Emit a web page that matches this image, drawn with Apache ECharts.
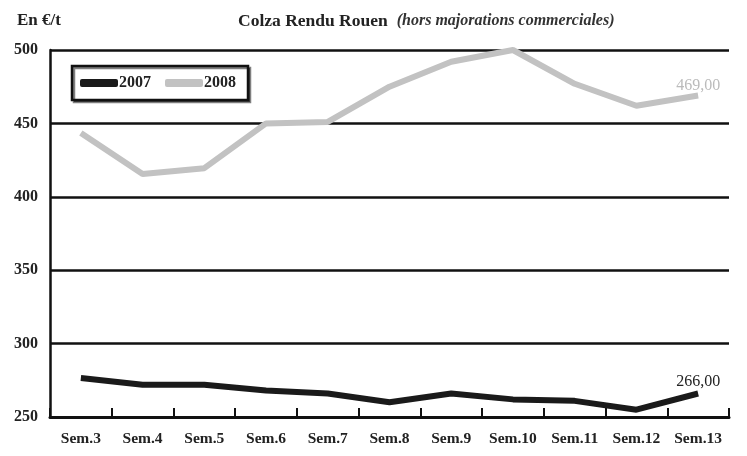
<!DOCTYPE html>
<html><head><meta charset="utf-8">
<script src="https://cdn.jsdelivr.net/npm/echarts@6/dist/echarts.min.js"></script>
<style>html,body{margin:0;padding:0;background:#fff}#c{width:747px;height:456px}</style>
</head><body><div id="c"></div>
<script>
const categories = ['Sem.3','Sem.4','Sem.5','Sem.6','Sem.7','Sem.8','Sem.9','Sem.10','Sem.11','Sem.12','Sem.13'];
const series2007 = [276.5, 272, 272, 268, 266, 260, 266, 262, 261, 255, 266];
const series2008 = [443.5, 415.5, 419.5, 450, 451, 475, 492, 500, 477, 462, 469];
const yTicks = [250, 300, 350, 400, 450, 500];

const font = '"Liberation Serif", "DejaVu Serif", serif';
const chart = echarts.init(document.getElementById('c'));
const last = categories.length - 1;
chart.setOption({
  animation: false,
  textStyle: { fontFamily: font },
  title: [
    { text: 'En €/t', left: 12, top: 7, textStyle: { fontFamily: font, fontWeight: 'bold', fontSize: 17, color: '#222' } },
    { text: '{b|Colza Rendu Rouen}  {i|(hors majorations commerciales)}', left: 233, top: 7,
      textStyle: { rich: {
        b: { fontFamily: font, fontWeight: 'bold', fontSize: 17.5, color: '#222' },
        i: { fontFamily: font, fontStyle: 'italic', fontSize: 16, color: '#333' } } } }
  ],
  legend: {
    left: 72, top: 66, itemWidth: 38, itemHeight: 8, itemGap: 14,
    padding: [9, 12, 9, 8],
    borderColor: '#111', borderWidth: 2.5,
    shadowColor: 'rgba(0,0,0,0.5)', shadowOffsetX: 2, shadowOffsetY: 2, shadowBlur: 0,
    backgroundColor: '#fff',
    textStyle: { fontFamily: font, fontWeight: 'bold', fontSize: 16, color: '#222', padding: [0,0,0,-4] },
    data: [
      { name: '2007', icon: 'roundRect' },
      { name: '2008', icon: 'roundRect' }
    ]
  },
  grid: { left: 50, right: 18, top: 50, bottom: 39 },
  xAxis: {
    type: 'category', data: categories, boundaryGap: true,
    axisLine: { lineStyle: { color: '#111', width: 3 } },
    axisTick: { show: true, inside: true, length: 9, interval: 0, lineStyle: { color: '#111', width: 2 } },
    axisLabel: { interval: 0, fontFamily: font, fontWeight: 'bold', fontSize: 15.5, color: '#222', margin: 14 }
  },
  yAxis: {
    type: 'value', min: yTicks[0], max: yTicks[yTicks.length-1], interval: 50,
    axisLine: { show: true, lineStyle: { color: '#111', width: 2.5 } },
    axisTick: { show: false },
    axisLabel: { fontFamily: font, fontWeight: 'bold', fontSize: 16, color: '#222', margin: 12 },
    splitLine: { lineStyle: { color: '#111', width: 2.5 } }
  },
  series: [
    { name: '2007', type: 'line', data: series2007, symbol: 'none', clip: false,
      lineStyle: { color: '#1a1a1a', width: 6 }, itemStyle: { color: '#1a1a1a' },
      endLabel: { show: true, formatter: () => series2007[last].toFixed(2).replace('.', ','),
        fontFamily: font, fontSize: 16, color: '#222', offset: [-30, -12] } },
    { name: '2008', type: 'line', data: series2008, symbol: 'none', clip: false,
      lineStyle: { color: '#c2c2c2', width: 6 }, itemStyle: { color: '#c2c2c2' },
      endLabel: { show: true, formatter: () => series2008[last].toFixed(2).replace('.', ','),
        fontFamily: font, fontSize: 16, color: '#bbb', offset: [-30, -10] } }
  ]
});
</script></body></html>
